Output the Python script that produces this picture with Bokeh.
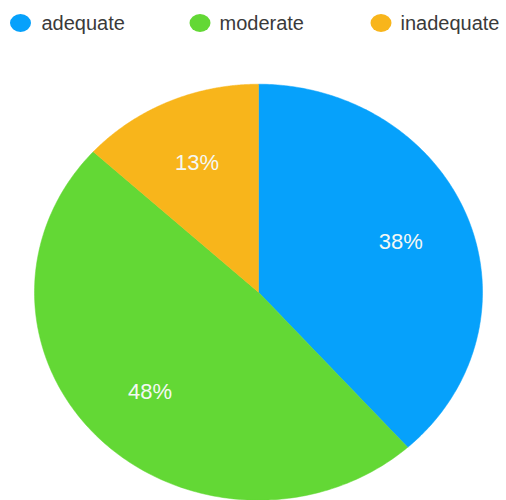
import numpy as np
from bokeh.plotting import figure
from bokeh.models import Range1d
from bokeh.core.properties import value
from bokeh.embed import file_html
from bokeh.resources import INLINE

categories = ["adequate", "moderate", "inadequate"]
shares = [38.4, 48.4, 13.2]
labels = ["38%", "48%", "13%"]
colors = ["#06A1FB", "#63D835", "#F8B51B"]

W, H = 506, 500
CX, CY = 258, 291.7  # pie centre in pixels from top-left
RX, RY = 224, 208

p = figure(width=W, height=H, output_backend="svg", toolbar_location=None,
           x_range=Range1d(-CX, W - CX), y_range=Range1d(-(H - CY), CY),
           min_border=0)
p.axis.visible = False
p.grid.visible = False
p.outline_line_color = None
p.background_fill_color = "white"
p.border_fill_color = "white"

total = sum(shares)
fr = np.array(shares) / total
ends = np.cumsum(fr) * 2 * np.pi
starts = ends - fr * 2 * np.pi

xs, ys = [], []
for a0, a1 in zip(starts, ends):
    t = np.linspace(a0, a1, 200)
    xs.append(np.concatenate([[0], RX * np.sin(t), [0]]))
    ys.append(np.concatenate([[0], RY * np.cos(t), [0]]))

p.patches(xs, ys, fill_color=colors, line_color=colors, line_width=0.5)

mids = (starts + ends) / 2
k = 0.68
lx = k * RX * np.sin(mids)
ly = k * RY * np.cos(mids)
p.text(x=lx, y=ly, text=labels, text_color="#F4F8F4", text_font=value("Liberation Sans"),
       text_font_size="22px", text_align="center", text_baseline="middle")

# legend row
dot_x = [20, 199.5, 380.5]
txt_x = [41, 219, 400]
leg_y = CY - 22.5
p.ellipse(x=[d - CX for d in dot_x], y=[leg_y] * 3, width=21, height=18,
          fill_color=colors, line_color=None)
p.text(x=[t - CX for t in txt_x], y=[leg_y] * 3, text=categories, text_color="#3a3a3a",
       text_font=value("Liberation Sans"), text_font_size="20px",
       text_align="left", text_baseline="middle")

open("out.html", "w").write(file_html(p, INLINE))
